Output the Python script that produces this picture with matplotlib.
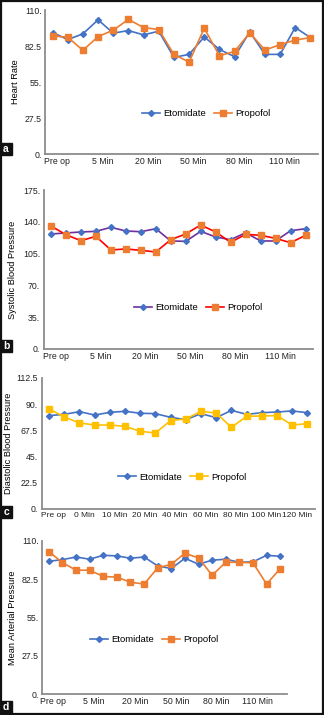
import matplotlib
matplotlib.use("Agg")
import matplotlib.pyplot as plt
from matplotlib.patches import Rectangle
from matplotlib.transforms import ScaledTranslation

plt.rcParams['font.family'] = ['Liberation Sans', 'DejaVu Sans']

W, H = 324, 715

# ---- data ----
hr_etomidate = [92.8, 87.4, 91.8, 102.5, 92.3, 94.3, 91.0, 93.8, 73.8, 76.1,
                89.4, 79.9, 74.3, 93.3, 76.1, 76.1, 96.6, 88.9]
hr_propofol = [90.2, 89.2, 79.2, 89.7, 94.6, 102.8, 96.6, 95.1, 76.1, 70.2,
               96.1, 75.0, 78.4, 92.5, 79.4, 83.5, 87.1, 88.9]

sbp_etomidate = [126.6, 127.7, 128.8, 129.5, 133.9, 129.9, 129.1, 132.4, 118.9, 118.5,
                 129.5, 123.3, 120.3, 128.0, 118.9, 118.9, 130.2, 132.4]
sbp_propofol = [135.4, 125.8, 119.2, 124.0, 109.0, 110.1, 108.6, 106.8, 120.3, 126.6,
                136.5, 128.8, 117.4, 126.2, 125.1, 121.8, 117.0, 125.1]

dbp_etomidate = [80.2, 81.3, 83.6, 80.7, 83.0, 83.9, 82.2, 81.9, 78.7, 76.7,
                 81.9, 78.4, 84.7, 81.3, 82.7, 83.3, 84.2, 82.7]
dbp_propofol = [85.9, 79.0, 73.9, 72.1, 72.1, 71.0, 66.7, 65.3, 75.9, 77.3,
                83.9, 82.4, 70.1, 79.6, 79.9, 80.2, 72.1, 73.3]

map_etomidate = [95.4, 96.6, 98.5, 96.9, 99.7, 99.3, 97.6, 98.5, 92.1, 90.2,
                 97.6, 93.3, 96.2, 96.9, 94.7, 95.0, 99.7, 99.0]
map_propofol = [102.4, 94.5, 89.0, 89.0, 84.5, 84.0, 80.4, 79.0, 90.7, 93.3,
                101.2, 97.8, 85.4, 94.7, 94.7, 94.3, 79.0, 90.2]

labels_every3 = ["Pre op", "5 Min", "20 Min", "50 Min", "80 Min", "110 Min"]
labels_every2 = ["Pre op", "0 Min", "10 Min", "20 Min", "40 Min", "60 Min",
                 "80 Min", "100 Min", "120 Min"]

yt_hr = [0, 27.5, 55, 82.5, 110]
yt_hr_lab = ["0.", "27.5", "55.", "82.5", "110."]
yt_sbp = [0, 35, 70, 105, 140, 175]
yt_sbp_lab = ["0.", "35.", "70.", "105.", "140.", "175."]
yt_dbp = [0, 22.5, 45, 67.5, 90, 112.5]
yt_dbp_lab = ["0.", "22.5", "45.", "67.5", "90.", "112.5"]

BLUE = '#4472C4'
ORANGE = '#ED7D31'
PURPLE = '#7030A0'
RED = '#FF0000'
YELLOW = '#FFC000'

fig = plt.figure(figsize=(W / 100, H / 100), dpi=100)


def px_rect(left, top, right, bottom):
    return [left / W, 1 - bottom / H, (right - left) / W, (bottom - top) / H]


def panel(rect, eto, pro, ylim, yticks, ylabs, xlabs, xstep, ylabel,
          eto_line, eto_mark, pro_line, pro_mark, leg_xy, ylab_x, letter, box_y,
          xfs=6.3):
    ax = fig.add_axes(px_rect(*rect))
    x = list(range(len(eto)))
    ax.plot(x, eto, color=eto_line, lw=1.2, marker='D', ms=3,
            mfc=eto_mark, mec=eto_mark, label='Etomidate')
    ax.plot(x, pro, color=pro_line, lw=1.2, marker='s', ms=4,
            mfc=pro_mark, mec=pro_mark, label='Propofol')
    ax.set_xlim(-0.5, len(eto) - 0.5)
    ax.set_ylim(*ylim)
    ax.set_yticks(yticks)
    ax.set_yticklabels(ylabs)
    ax.set_xticks(x[::xstep][:len(xlabs)])
    ax.set_xticklabels(xlabs)
    ax.tick_params(length=0, labelsize=6.3, colors='#222222', pad=2.5)
    ax.tick_params(axis='x', labelsize=xfs)
    shift = ScaledTranslation(4.5 / 100, 0, fig.dpi_scale_trans)
    for lab in ax.get_xticklabels():
        lab.set_transform(lab.get_transform() + shift)
    for s in ('top', 'right'):
        ax.spines[s].set_visible(False)
    for s in ('left', 'bottom'):
        ax.spines[s].set_color('#8c8c8c')
        ax.spines[s].set_linewidth(1.3)
    ax.set_ylabel(ylabel, fontsize=6.7)
    ax.yaxis.set_label_coords((ylab_x + 4.5) / W, 1 - (rect[1] + rect[3]) / 2 / H,
                              transform=fig.transFigure)
    ax.legend(loc='center', bbox_to_anchor=(leg_xy[0] / W, 1 - leg_xy[1] / H),
              bbox_transform=fig.transFigure, ncol=2, frameon=False,
              fontsize=6.8, handlelength=2.0, handletextpad=0.3,
              columnspacing=0.8)
    # panel letter box
    fig.patches.append(Rectangle((0, 1 - (box_y + 12) / H), 12 / W, 12 / H,
                                 transform=fig.transFigure, color='#111111'))
    fig.text(6 / W, 1 - (box_y + 6) / H, letter, color='white', fontsize=7.5,
             fontweight='bold', ha='center', va='center')
    return ax


panel((45, 10, 318, 154), hr_etomidate, hr_propofol, (0, 110), yt_hr, yt_hr_lab,
      labels_every3, 3, 'Heart Rate', BLUE, BLUE, ORANGE, ORANGE,
      (206, 114), 16, 'a', 143)
panel((43.5, 190, 313, 349), sbp_etomidate, sbp_propofol, (0, 175), yt_sbp, yt_sbp_lab,
      labels_every3, 3, 'Systolic Blood Pressure', PURPLE, BLUE, RED, ORANGE,
      (198, 308), 13, 'b', 340)
panel((41.5, 378, 315, 509), dbp_etomidate, dbp_propofol, (0, 112.5), yt_dbp, yt_dbp_lab,
      labels_every2, 2, 'Diastolic Blood Pressure', BLUE, BLUE, YELLOW, YELLOW,
      (182, 477), 9, 'c', 506, xfs=6.0)
panel((42, 541, 287, 694), map_etomidate, map_propofol, (0, 110), yt_hr, yt_hr_lab,
      labels_every3, 3, 'Mean Arterial Pressure', BLUE, BLUE, ORANGE, ORANGE,
      (154, 640), 13, 'd', 701)

# outer frame
fig.patches.append(Rectangle((0.003, 0.0015), 0.994, 0.997, transform=fig.transFigure,
                             fill=False, edgecolor='#111111', lw=1.6))

fig.savefig('out.png', dpi=100)
